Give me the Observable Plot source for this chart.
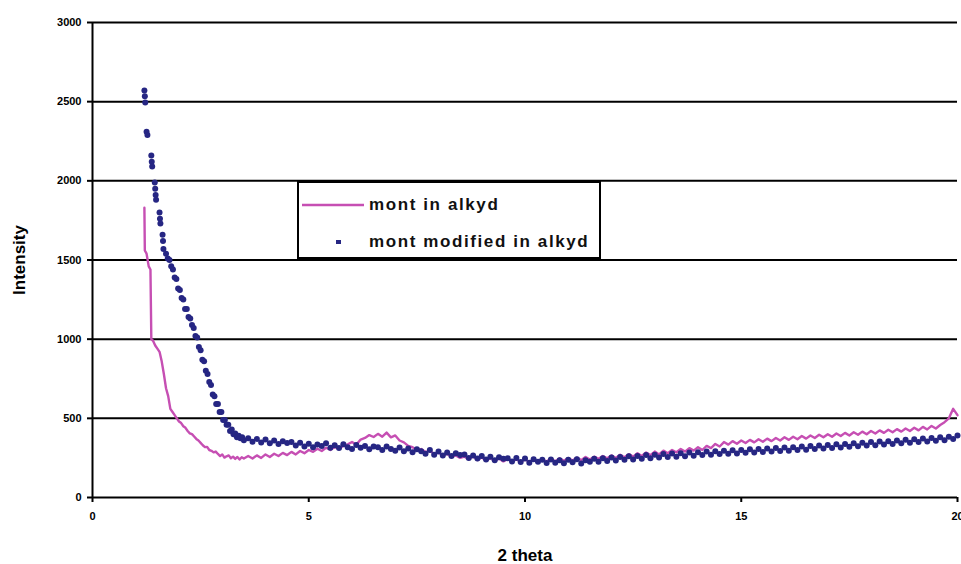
<!DOCTYPE html>
<html>
<head>
<meta charset="utf-8">
<script src="https://cdn.jsdelivr.net/npm/d3@7"></script>
<script src="https://cdn.jsdelivr.net/npm/@observablehq/plot@0.6"></script>
<style>
  html, body { margin: 0; padding: 0; background: #fff; }
  #wrap { position: relative; width: 961px; height: 564px; overflow: hidden; background: #fff; }
  #wrap svg { display: block; }
  g[aria-label="y-axis label"] text, g[aria-label="x-axis label"] text { font-size: 17px; font-weight: bold; }
  #legend {
    position: absolute; left: 297px; top: 181px; width: 300px; height: 74px;
    background: #fff; border: 2px solid #000;
    font-family: "Liberation Sans Narrow", "Liberation Sans", Arial, sans-serif;
    font-size: 17px; font-weight: bold; color: #111; letter-spacing: 1.6px;
  }
  #legend .row { position: absolute; left: 0; height: 24px; display: flex; align-items: center; }
  #legend .lbl { position: absolute; left: 70px; white-space: nowrap; }
</style>
</head>
<body>
<div id="wrap"></div>
<script>
// ---- data ----
const seriesNames = ["mont in alkyd", "mont modified in alkyd"];
const xTicks = [0, 5, 10, 15, 20];
const yTicks = [0, 500, 1000, 1500, 2000, 2500, 3000];

// mont in alkyd: steep start (explicit x) then regular sampling from 3.6 to 20 step 0.1
const pinkHeadX = [1.20,1.21,1.25,1.30,1.34,1.36,1.40,1.45,1.50,1.55,1.60,1.65,1.70,1.75,1.80,1.85,1.90,1.95,2.00,2.05,2.10,2.15,2.20,2.25,2.30,2.35,2.40,2.45,2.50,2.55,2.60,2.65,2.70,2.75,2.80,2.85,2.90,2.95,3.00,3.05,3.10,3.15,3.20,3.25,3.30,3.35,3.40,3.45,3.50];
const pinkHeadY = [1830,1560,1540,1460,1440,1000,990,960,940,920,860,780,690,640,560,540,520,500,480,470,450,440,420,405,400,385,370,360,345,330,318,320,300,295,285,290,275,262,272,252,260,266,248,258,244,256,240,254,246];
const pinkTailY = [
  262,246,266,250,272,256,276,262,282,268,
  288,272,294,280,300,288,308,294,314,300,
  320,306,326,336,350,334,366,376,394,382,
  402,384,410,380,392,360,348,326,318,300,
  306,288,294,276,284,266,276,256,266,250,
  258,242,262,236,254,232,250,230,246,228,
  244,226,242,224,240,226,238,222,240,228,
  244,228,248,232,250,234,252,236,256,240,
  258,244,262,248,266,250,270,254,274,258,
  280,262,284,268,290,272,296,280,300,286,
  306,290,312,296,318,300,326,312,338,322,
  350,334,356,340,360,344,364,348,368,352,
  372,356,376,360,380,364,384,368,388,372,
  392,376,396,380,400,384,404,388,408,392,
  412,396,416,400,420,404,424,408,428,412,
  432,416,436,420,440,424,446,430,452,436,
  458,476,500,560,520
];

// mont modified in alkyd
const navyHeadX = [1.20,1.21,1.22,1.25,1.27,1.36,1.37,1.38,1.44,1.45,1.46,1.47,1.55,1.56,1.57,1.62,1.63,1.64,1.70,1.74,1.78,1.82,1.86,1.90,1.94,1.98,2.02,2.06,2.10,2.14,2.18,2.22,2.26,2.30,2.34,2.38,2.42,2.46,2.50,2.54,2.58,2.62,2.66,2.70,2.74,2.78,2.82,2.86,2.90,2.94,2.98,3.02,3.06,3.10,3.14,3.18,3.22,3.26,3.30,3.34,3.38,3.42,3.46,3.50];
const navyHeadY = [2570,2535,2495,2310,2290,2160,2120,2090,1990,1950,1910,1880,1800,1760,1730,1660,1620,1570,1540,1510,1500,1460,1440,1390,1380,1320,1310,1260,1250,1190,1190,1140,1130,1090,1070,1020,1010,950,930,870,860,800,780,730,710,650,640,590,590,540,540,490,490,460,460,420,430,400,405,380,390,375,380,362];
const navyTailY = [
  375,352,370,348,366,342,360,338,356,345,
  350,328,346,322,340,318,334,326,342,315,
  330,312,336,318,306,332,314,326,304,322,
  318,300,322,306,296,316,292,310,286,304,
  292,276,300,270,290,266,284,262,280,268,
  272,250,266,246,262,240,258,236,254,244,
  248,228,250,224,246,220,242,226,238,218,
  240,220,236,216,238,222,242,214,236,226,
  244,226,248,230,252,234,256,238,260,240,
  262,244,268,248,270,252,274,256,278,258,
  280,260,284,264,286,268,290,270,292,274,
  296,276,298,278,300,282,304,284,306,288,
  310,290,312,294,316,296,318,300,322,302,
  326,306,328,310,332,312,336,316,338,320,
  342,324,346,328,350,330,354,334,356,338,
  360,342,364,346,368,350,372,354,376,358,
  380,362,384,370,392
];
const tailStart = 3.6, tailStep = 0.1;

// ---- build tables ----
const tailX = pinkTailY.map((_, i) => +(tailStart + i * tailStep).toFixed(2));
const pink = pinkHeadX.map((x, i) => ({x, y: pinkHeadY[i]}))
  .concat(pinkTailY.map((y, i) => ({x: tailX[i], y})));
const navy = navyHeadX.map((x, i) => ({x, y: navyHeadY[i]}))
  .concat(navyTailY.map((y, i) => ({x: tailX[i], y})));

const PINK = "#c64fb3", NAVY = "#262683";

const chart = Plot.plot({
  width: 961,
  height: 564,
  marginTop: 22,
  marginBottom: 67,
  marginLeft: 92,
  marginRight: 4,
  style: {fontFamily: '"Liberation Sans Narrow", "Liberation Sans", Arial, sans-serif', background: "#fff", color: "#000"},
  x: {domain: [0, 20]},
  y: {domain: [0, 3000]},
  marks: [
    Plot.ruleY(yTicks, {stroke: "#000", strokeWidth: 2}),
    Plot.ruleX([0], {stroke: "#000", strokeWidth: 2}),
    Plot.axisY({ticks: yTicks, tickSize: 5, tickPadding: 6, tickFormat: d3.format("d"),
      fontSize: 11, fontWeight: "bold", stroke: "#000", strokeWidth: 2,
      label: "Intensity", labelAnchor: "center", labelOffset: 80, labelArrow: "none"}),
    Plot.axisX({ticks: xTicks, tickSize: 5, tickPadding: 10, tickFormat: d3.format("d"),
      fontSize: 11, fontWeight: "bold", stroke: "#000", strokeWidth: 2,
      label: "2 theta", labelAnchor: "center", labelOffset: 63, labelArrow: "none"}),
    Plot.line(pink, {x: "x", y: "y", stroke: PINK, strokeWidth: 2.4}),
    Plot.dot(navy, {x: "x", y: "y", r: 3, fill: NAVY, stroke: "none"})
  ]
});

const wrap = document.getElementById("wrap");
wrap.appendChild(chart);

// legend
const legend = document.createElement("div");
legend.id = "legend";
legend.innerHTML = `
  <div class="row" style="top:10px;width:100%">
    <svg width="66" height="24" style="position:absolute;left:2px;top:0"><line x1="1" x2="63" y1="12" y2="12" stroke="${PINK}" stroke-width="2.5"/></svg>
    <span class="lbl">${seriesNames[0]}</span>
  </div>
  <div class="row" style="top:47px;width:100%">
    <svg width="66" height="24" style="position:absolute;left:2px;top:0"><rect x="35" y="10" width="5" height="4" fill="${NAVY}"/></svg>
    <span class="lbl">${seriesNames[1]}</span>
  </div>`;
wrap.appendChild(legend);
</script>
</body>
</html>
